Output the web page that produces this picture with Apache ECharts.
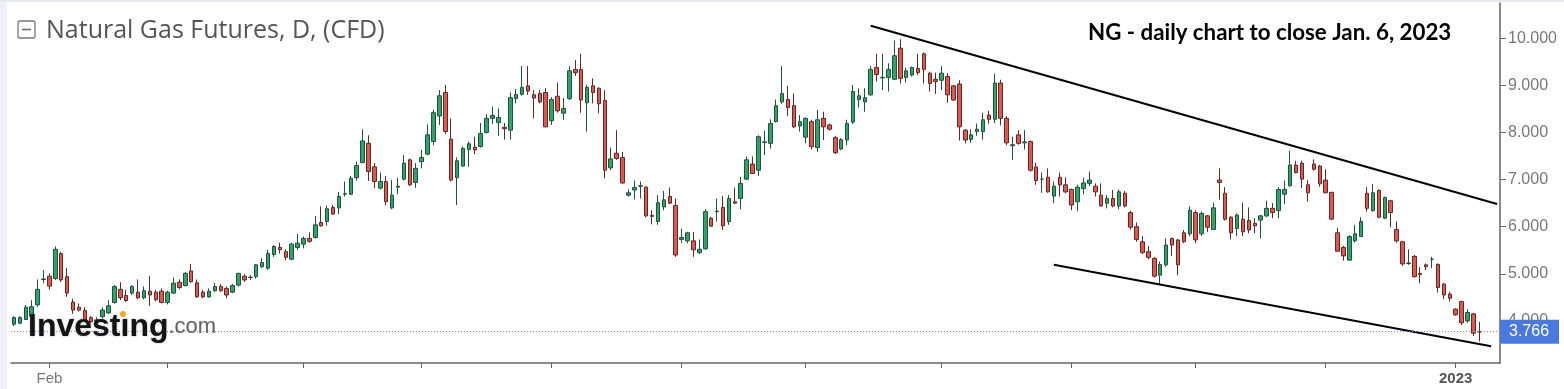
<!DOCTYPE html>
<html><head><meta charset="utf-8">
<script src="https://cdn.jsdelivr.net/npm/echarts@6/dist/echarts.min.js"></script>
<style>html,body{margin:0;padding:0;background:#fff}#c{width:1564px;height:389px}</style>
</head><body><div id="c"></div><script>
// Daily OHLC, Jan 24 2022 .. Jan 6 2023 (weekdays, Good Friday closed)
const opens = [3.93,3.95,4.03,4.10,4.34,4.88,4.95,4.90,5.43,4.94,4.40,4.29,4.22,4.07,4.00,4.09,4.17,4.39,4.67,4.54,4.59,4.61,4.49,4.63,4.61,4.63,4.39,4.59,4.82,4.75,5.06,4.81,4.61,4.51,4.64,4.73,4.69,4.61,4.76,4.95,
4.92,4.94,5.15,5.12,5.41,5.56,5.47,5.31,5.56,5.63,5.75,5.77,6.09,6.11,6.41,6.40,6.69,6.69,7.04,7.36,7.77,7.27,6.82,6.96,6.40,6.84,7.01,7.42,6.94,7.38,
7.54,7.81,8.35,8.85,7.86,7.04,7.29,7.64,7.69,7.70,8.00,8.30,8.21,8.11,8.05,8.72,8.81,8.99,8.80,8.83,8.85,8.25,8.77,8.41,8.72,9.34,9.34,8.63,8.99,8.94,
8.68,7.25,7.56,7.47,6.67,6.78,6.86,6.84,6.24,6.11,6.42,6.64,6.45,5.73,5.70,5.70,5.45,5.53,6.18,6.32,6.41,6.11,6.53,6.60,7.01,7.33,7.20,7.79,7.77,8.23,
8.65,8.70,8.57,8.14,7.90,8.23,7.68,8.30,8.16,7.89,7.65,7.84,8.22,8.70,8.65,8.80,9.38,9.16,9.17,9.13,9.79,9.17,9.22,9.36,9.67,9.26,9.13,9.11,9.19,8.99,
9.03,8.05,7.85,8.02,8.02,8.37,8.28,9.05,8.30,7.72,7.95,7.78,7.81,7.27,7.01,7.05,6.65,7.05,6.89,6.79,6.53,6.81,6.92,6.86,6.67,6.50,6.60,6.44,6.71,6.30,
6.00,5.68,5.47,5.33,4.97,5.19,5.75,5.72,5.87,5.85,6.30,5.85,6.23,5.94,6.99,6.71,6.20,5.96,6.16,6.13,6.07,6.14,6.23,6.39,6.34,6.69,6.87,7.31,7.35,6.89,
7.33,7.29,6.99,6.73,5.87,5.56,5.29,5.70,5.79,6.71,6.34,6.77,6.18,6.55,5.94,5.68,5.22,5.37,5.01,5.19,5.31,5.20,4.78,4.57,4.25,4.41,4.00,4.15,3.77];
const highs = [4.10,4.10,4.34,4.44,4.88,5.08,5.01,5.58,5.47,5.12,4.47,4.37,4.29,4.10,4.08,4.29,4.44,4.76,4.82,4.66,4.76,4.88,4.73,4.95,4.66,4.69,4.64,4.92,4.88,5.04,5.21,4.88,4.66,4.69,4.81,4.78,4.73,4.78,5.02,4.99,
4.97,5.21,5.33,5.51,5.61,5.66,5.52,5.66,5.85,5.79,5.88,6.23,6.43,6.45,6.46,6.74,6.96,7.08,7.38,8.07,7.94,7.35,7.15,7.08,6.99,7.04,7.52,7.45,7.35,7.63,
8.17,8.48,8.90,9.01,8.30,7.47,7.70,7.81,7.91,8.20,8.39,8.55,8.51,8.20,8.85,8.92,9.41,9.41,8.90,8.90,8.94,8.75,9.06,8.73,9.41,9.54,9.67,9.01,9.15,8.96,
8.90,7.68,8.05,7.59,6.79,6.98,6.96,6.86,6.35,6.67,6.76,6.83,6.60,5.96,5.89,5.89,5.73,6.37,6.21,6.60,6.65,6.67,6.83,7.06,7.49,7.49,7.94,8.04,8.28,8.70,
9.41,8.99,8.83,8.37,8.32,8.27,8.48,8.44,8.19,7.93,7.88,8.27,9.01,8.94,8.94,9.41,9.67,9.67,9.47,9.95,9.98,9.38,9.40,9.67,9.70,9.29,9.27,9.41,9.26,9.01,
9.11,8.07,8.07,8.19,8.42,8.46,9.25,9.12,8.35,7.91,8.05,8.05,7.83,7.36,7.15,7.24,6.96,7.15,7.05,6.81,6.89,7.04,7.17,6.92,6.92,6.67,6.78,6.79,6.76,6.34,
6.09,5.80,5.59,5.35,5.26,5.75,5.77,5.73,5.93,6.43,6.35,6.32,6.25,6.51,7.24,6.84,6.23,6.28,6.51,6.41,6.18,6.25,6.55,6.50,6.84,6.98,7.61,7.40,7.40,6.99,
7.43,7.31,7.22,6.74,5.97,5.59,5.82,6.04,6.20,6.84,6.91,6.79,6.64,6.57,6.11,5.70,5.52,5.40,5.14,5.22,5.36,5.22,4.81,4.62,4.27,4.43,4.25,4.17,3.98];
const lows = [3.89,3.93,4.02,4.05,4.30,4.80,4.66,4.87,4.83,4.51,4.15,4.20,3.98,3.95,3.94,4.05,4.15,4.37,4.44,4.40,4.55,4.46,4.46,4.32,4.42,4.37,4.35,4.57,4.67,4.73,4.81,4.49,4.48,4.49,4.62,4.62,4.48,4.59,4.73,4.83,
4.87,4.90,5.12,5.08,5.36,5.43,5.29,5.29,5.51,5.54,5.66,5.75,6.00,6.02,6.25,6.27,6.64,6.67,6.98,7.35,6.97,6.82,6.79,6.46,6.37,6.69,6.98,6.86,6.82,7.24,
7.52,7.73,8.16,7.97,6.96,6.46,7.27,7.27,7.54,7.68,7.98,8.18,7.93,7.85,7.85,8.62,8.78,8.80,8.30,8.62,8.11,8.16,8.42,8.27,8.69,9.20,8.42,8.02,8.62,8.41,
7.03,7.20,7.42,6.91,6.64,6.58,6.60,6.20,6.05,6.04,6.35,6.48,5.36,5.65,5.65,5.36,5.42,5.51,6.00,6.11,5.93,6.04,6.48,6.37,6.99,7.12,7.08,7.52,7.66,8.21,
8.61,8.35,8.09,8.02,7.77,7.64,7.59,7.84,8.04,7.54,7.63,7.73,8.18,8.53,8.44,8.78,9.08,8.90,8.87,9.11,9.04,9.06,9.19,9.22,9.04,8.87,8.82,8.90,8.63,8.67,
7.83,7.77,7.78,7.93,7.85,8.19,8.20,8.15,7.73,7.42,7.74,7.64,7.17,6.89,6.72,6.72,6.50,6.64,6.71,6.35,6.33,6.69,6.86,6.64,6.43,6.39,6.41,6.37,6.41,5.94,
5.68,5.42,5.31,4.92,4.78,5.15,5.38,4.97,5.65,5.80,5.65,5.80,5.89,5.93,6.57,6.13,5.73,5.80,5.80,5.86,5.86,5.75,6.20,6.18,6.18,6.48,6.85,7.13,6.82,6.53,
7.19,6.85,6.71,6.14,5.47,5.28,5.28,5.66,5.78,6.32,6.32,6.18,6.16,5.99,5.66,5.17,5.19,4.92,4.80,5.08,5.12,4.60,4.46,4.41,4.11,3.91,3.96,3.68,3.56];
const closes = [4.07,4.07,4.29,4.30,4.67,4.89,4.74,5.52,4.87,4.59,4.23,4.23,4.02,3.98,4.02,4.23,4.32,4.73,4.49,4.43,4.73,4.49,4.64,4.55,4.45,4.39,4.61,4.80,4.71,5.01,4.83,4.51,4.51,4.63,4.73,4.64,4.55,4.75,5.01,4.87,
4.93,5.19,5.24,5.43,5.58,5.51,5.35,5.63,5.65,5.75,5.69,6.04,6.02,6.38,6.27,6.64,6.70,7.03,7.30,7.82,7.17,6.96,6.96,6.53,6.67,6.86,7.35,6.89,7.24,7.47,
7.95,8.42,8.78,8.02,6.99,7.40,7.66,7.76,7.63,7.98,8.30,8.36,8.32,8.08,8.74,8.81,8.96,8.88,8.73,8.65,8.12,8.70,8.46,8.51,9.31,9.27,8.69,8.96,8.85,8.61,
7.20,7.44,7.45,6.93,6.72,6.83,6.87,6.23,6.22,6.51,6.57,6.50,5.40,5.77,5.87,5.51,5.52,6.32,6.01,6.33,6.02,6.60,6.50,6.92,7.42,7.13,7.91,7.80,8.19,8.57,
8.83,8.53,8.12,8.23,8.30,7.70,8.27,8.12,8.07,7.57,7.85,8.19,8.87,8.78,8.74,9.34,9.23,9.17,9.34,9.63,9.15,9.31,9.38,9.27,9.34,9.04,9.08,9.26,8.80,8.69,
8.12,7.84,7.95,8.07,8.27,8.28,9.05,8.30,7.78,7.74,7.77,7.80,7.20,6.98,7.01,6.74,6.86,6.89,6.74,6.46,6.84,6.93,6.99,6.74,6.44,6.60,6.44,6.74,6.44,5.99,
5.73,5.45,5.35,4.95,5.20,5.61,5.61,5.19,5.68,6.35,5.72,6.28,5.99,6.40,6.94,6.16,5.87,6.25,5.89,5.93,6.02,6.23,6.39,6.30,6.79,6.79,7.31,7.15,7.01,6.72,
7.22,6.91,6.72,6.16,5.48,5.38,5.79,5.85,6.11,6.39,6.72,6.20,6.62,6.30,5.70,5.21,5.23,4.94,4.98,5.15,5.31,4.71,4.55,4.48,4.13,3.96,4.18,3.74,3.766];

const startDate = [2022, 0, 24];
const closedDays = ['2022-04-15'];
const padDays = 3;
const yTicks = [4, 5, 6, 7, 8, 9, 10];
const monthNames = ['Jan','Feb','Mar','Apr','May','Jun','Jul','Aug','Sep','Oct','Nov','Dec'];
const shownLabels = ['2022-02-01', '2023-01-02'];
const lastPrice = 3.766;
// channel lines: [category index, price]
const upperTrend = [[145, 10.265], [251, 6.482]];
const lowerTrend = [[176, 5.193], [250, 3.463]];

const categories = [];
{
  const d = new Date(Date.UTC(startDate[0], startDate[1], startDate[2]));
  while (categories.length < opens.length + padDays) {
    const wd = d.getUTCDay();
    const s = d.toISOString().slice(0, 10);
    if (wd !== 0 && wd !== 6 && closedDays.indexOf(s) < 0) categories.push(s);
    d.setUTCDate(d.getUTCDate() + 1);
  }
}
const monthStart = new Set();
for (let i = 1; i < categories.length; i++) {
  if (categories[i].slice(0, 7) !== categories[i - 1].slice(0, 7)) monthStart.add(i);
}
const candles = opens.map((o, i) => [o, closes[i], lows[i], highs[i]]);
const labelFont = 'Liberation Sans, Arial, sans-serif';

const chart = echarts.init(document.getElementById('c'), null, {renderer: 'canvas'});
chart.setOption({
  animation: false,
  backgroundColor: '#ffffff',
  grid: {left: 11, right: 64, top: 3, bottom: 26, containLabel: false},
  xAxis: [{
    type: 'category',
    data: categories,
    boundaryGap: true,
    axisLine: {show: true, lineStyle: {color: '#666', width: 1.5}},
    axisTick: {show: true, alignWithLabel: true, length: 5, lineStyle: {color: '#666', width: 1},
      interval: (i) => monthStart.has(i)},
    axisLabel: {
      interval: (i, v) => shownLabels.indexOf(v) >= 0 && v.slice(5, 7) !== '01',
      showMinLabel: false, showMaxLabel: false,
      margin: 8,
      fontSize: 15,
      color: '#777',
      fontFamily: labelFont,
      formatter: (v) => monthNames[parseInt(v.slice(5, 7), 10) - 1]
    },
    splitLine: {show: false}
  }, {
    type: 'category',
    data: categories,
    position: 'bottom',
    gridIndex: 0,
    boundaryGap: true,
    axisLine: {show: false},
    axisTick: {show: false},
    axisLabel: {
      interval: (i, v) => shownLabels.indexOf(v) >= 0 && v.slice(5, 7) === '01',
      showMinLabel: false, showMaxLabel: false,
      margin: 8,
      fontSize: 15,
      fontWeight: 'bold',
      color: '#555',
      fontFamily: labelFont,
      formatter: (v) => v.slice(0, 4)
    },
    splitLine: {show: false}
  }],
  yAxis: {
    type: 'value',
    position: 'right',
    min: 3.1062, max: 10.7495,
    scale: true,
    axisLine: {show: true, lineStyle: {color: '#666', width: 1.5}},
    axisTick: {show: true, length: 6, customValues: yTicks, lineStyle: {color: '#666'}},
    axisLabel: {customValues: yTicks, margin: 8, color: '#777', fontSize: 16,
      fontFamily: labelFont, formatter: (v) => v.toFixed(3)},
    splitLine: {show: false}
  },
  series: [{
    type: 'candlestick',
    data: candles,
    barWidth: 4,
    itemStyle: {color: '#2ea36a', color0: '#e0574f', borderColor: '#23503a', borderColor0: '#5e2a26', borderWidth: 1},
    markLine: {
      silent: true,
      symbol: ['none', 'none'],
      animation: false,
      data: [
        [{coord: [categories[upperTrend[0][0]], upperTrend[0][1]], lineStyle: {color: '#000', width: 2, type: 'solid'}, label: {show: false}},
         {coord: [categories[upperTrend[1][0]], upperTrend[1][1]]}],
        [{coord: [categories[lowerTrend[0][0]], lowerTrend[0][1]], lineStyle: {color: '#000', width: 2, type: 'solid'}, label: {show: false}},
         {coord: [categories[lowerTrend[1][0]], lowerTrend[1][1]]}],
        {yAxis: lastPrice, lineStyle: {color: '#6f8fdc', width: 1, type: [1, 2]},
         label: {show: true, position: 'end', distance: 0, formatter: lastPrice.toFixed(3), color: '#fff',
           backgroundColor: '#4a78dc', fontSize: 16, fontFamily: labelFont,
           padding: [4, 10, 4, 9]}}
      ]
    }
  }],
  graphic: [
    {type: 'rect', left: 0, top: 0, shape: {width: 7, height: 389}, style: {fill: '#eef1f5'}, z: 10},
    {type: 'rect', left: 0, top: 0, shape: {width: 1564, height: 2}, style: {fill: '#e4e9ef'}, z: 10},
    {type: 'rect', shape: {x: 18, y: 21, width: 17, height: 17, r: 2}, style: {fill: '#fff', stroke: '#777', lineWidth: 1.3}, z: 10},
    {type: 'line', shape: {x1: 22, y1: 29.5, x2: 31, y2: 29.5}, style: {stroke: '#666', lineWidth: 1.5}, z: 10},
    {type: 'text', x: 46, y: 31, z: 10, style: {text: 'Natural Gas Futures, D, (CFD)', fill: '#555', fontSize: 25,
      fontFamily: 'Open Sans, sans-serif', verticalAlign: 'middle'}},
    {type: 'text', x: 1088, y: 33, z: 10, style: {text: 'NG - daily chart to close Jan. 6, 2023', fill: '#000', fontSize: 22.3,
      fontWeight: 'bold', fontFamily: 'Lato, sans-serif', verticalAlign: 'middle'}},
    {type: 'text', x: 28, y: 327, z: 10, style: {
      text: '{a|Invest\u0131ng}{b|.com}',
      verticalAlign: 'middle',
      rich: {
        a: {fontSize: 32, fontWeight: 'bold', fill: '#141414', fontFamily: labelFont, textShadowBlur: 2, textShadowColor: 'rgba(0,0,0,0.35)'},
        b: {fontSize: 22, fill: '#666', fontFamily: labelFont, textShadowBlur: 1, textShadowColor: 'rgba(0,0,0,0.2)'}
      }}},
    {type: 'circle', shape: {cx: 123, cy: 314, r: 3}, style: {fill: '#f5a623'}, z: 11}
  ]
});
</script></body></html>
